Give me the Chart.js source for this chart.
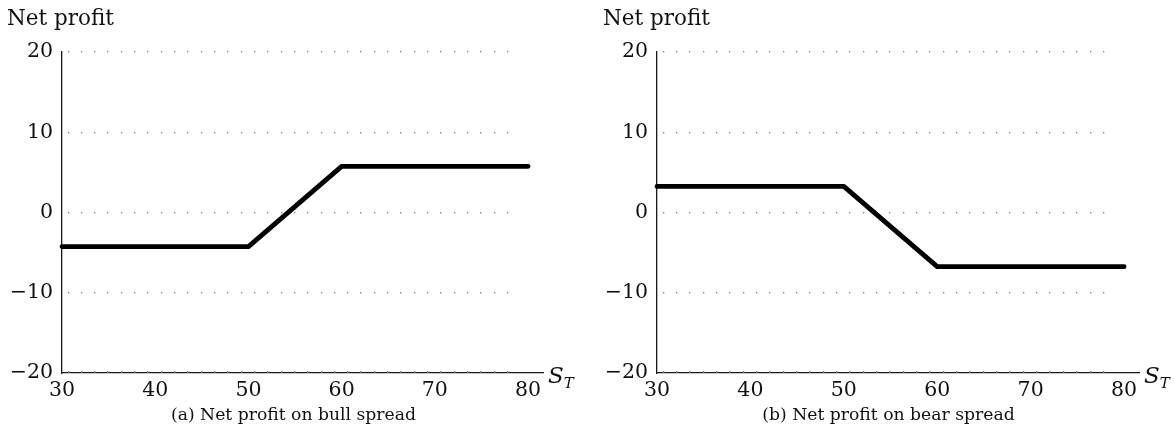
<!DOCTYPE html>
<html>
<head>
<meta charset="utf-8">
<script src="https://cdn.jsdelivr.net/npm/chart.js@4.4.1/dist/chart.umd.min.js"></script>
<style>
  html, body { margin: 0; padding: 0; background: #fff; }
  body { width: 1174px; height: 434px; position: relative; overflow: hidden; font-family: "DejaVu Serif", serif; color: #111; }
  .box { position: absolute; top: 0; width: 587px; height: 434px; }
  .lbl { position: absolute; white-space: nowrap; line-height: 1; }
  .ylab { font-size: 21.5px; }
  .cap { font-size: 17.2px; text-align: center; width: 587px; }
  .st { font-size: 23px; font-style: italic; }
  .st sub { font-size: 15px; vertical-align: -5px; }
</style>
</head>
<body>
<div class="box" style="left:0"><canvas id="c1"></canvas></div>
<div class="box" style="left:587px"><canvas id="c2"></canvas></div>

<div class="lbl ylab" style="left:7px; top:7px;">Net profit</div>
<div class="lbl ylab" style="left:603px; top:7px;">Net profit</div>
<div class="lbl st" style="left:548px; top:364px;">S<sub>T</sub></div>
<div class="lbl st" style="left:1144px; top:364px;">S<sub>T</sub></div>
<div class="lbl cap" style="left:0px; top:406px;">(a) Net profit on bull spread</div>
<div class="lbl cap" style="left:595px; top:406px;">(b) Net profit on bear spread</div>

<script>
// ---- data ----
const stockPrices = [30, 50, 60, 80];
const bullProfit = [-4.25, -4.25, 5.75, 5.75];
const bearProfit = [3.25, 3.25, -6.75, -6.75];
const xTickValues = [30, 40, 50, 60, 70, 80];
const yTickValues = [-20, -10, 0, 10, 20];
const X_MIN = 30, X_MAX = 81.6, Y_MIN = -20, Y_MAX = 20;

const FONT = '"DejaVu Serif", serif';

const dottedGrid = {
  id: 'dottedGrid',
  beforeDatasetsDraw(chart) {
    const ctx = chart.ctx;
    const xs = chart.scales.x, ys = chart.scales.y;
    const x0 = xs.getPixelForValue(30);
    const x1 = xs.getPixelForValue(80);
    const step = (x1 - x0) / 35;
    ctx.save();
    ctx.fillStyle = '#7a7a7a';
    yTickValues.forEach(v => {
      const y = ys.getPixelForValue(v);
      const yy = v === Y_MIN ? y - 2.2 : y - 0.6;
      for (let px = x0 + 5.5; px <= x1 - 10; px += step) {
        ctx.fillRect(Math.round(px), Math.round(yy), 1.3, v === Y_MIN ? 2 : 1.3);
      }
    });
    ctx.restore();
  }
};

function makeChart(id, values, leftWidth, rightPad) {
  const pts = stockPrices.map((x, i) => ({ x: x, y: values[i] }));
  return new Chart(document.getElementById(id), {
    type: 'line',
    data: {
      datasets: [{
        data: pts,
        borderColor: '#000',
        borderWidth: 4.8,
        pointRadius: 0,
        borderCapStyle: 'round',
        borderJoinStyle: 'round',
        tension: 0,
        clip: false
      }]
    },
    options: {
      responsive: true,
      maintainAspectRatio: false,
      animation: false,
      layout: { padding: { top: 52, right: rightPad, left: 0, bottom: 0 } },
      plugins: { legend: { display: false }, tooltip: { enabled: false } },
      scales: {
        x: {
          type: 'linear',
          min: X_MIN,
          max: X_MAX,
          afterBuildTicks(scale) { scale.ticks = xTickValues.map(v => ({ value: v })); },
          afterFit(scale) { scale.height = 61; },
          grid: { display: true, drawOnChartArea: false, drawTicks: false },
          border: { display: true, color: '#1a1a1a', width: 1.3 },
          ticks: {
            autoSkip: false,
            maxRotation: 0,
            padding: 5,
            color: '#111',
            font: { family: FONT, size: 20.5 }
          }
        },
        y: {
          type: 'linear',
          min: Y_MIN,
          max: Y_MAX,
          afterBuildTicks(scale) { scale.ticks = yTickValues.map(v => ({ value: v })); },
          afterFit(scale) { scale.width = leftWidth; },
          grid: { display: true, drawOnChartArea: false, drawTicks: false },
          border: { display: true, color: '#1a1a1a', width: 1.3 },
          ticks: {
            padding: 9,
            color: '#111',
            font: { family: FONT, size: 20.5 },
            callback: v => (v < 0 ? '\u2212' + Math.abs(v) : String(v))
          }
        }
      }
    },
    plugins: [dottedGrid]
  });
}

makeChart('c1', bullProfit, 62, 44);
makeChart('c2', bearProfit, 70, 35);
</script>
</body>
</html>
